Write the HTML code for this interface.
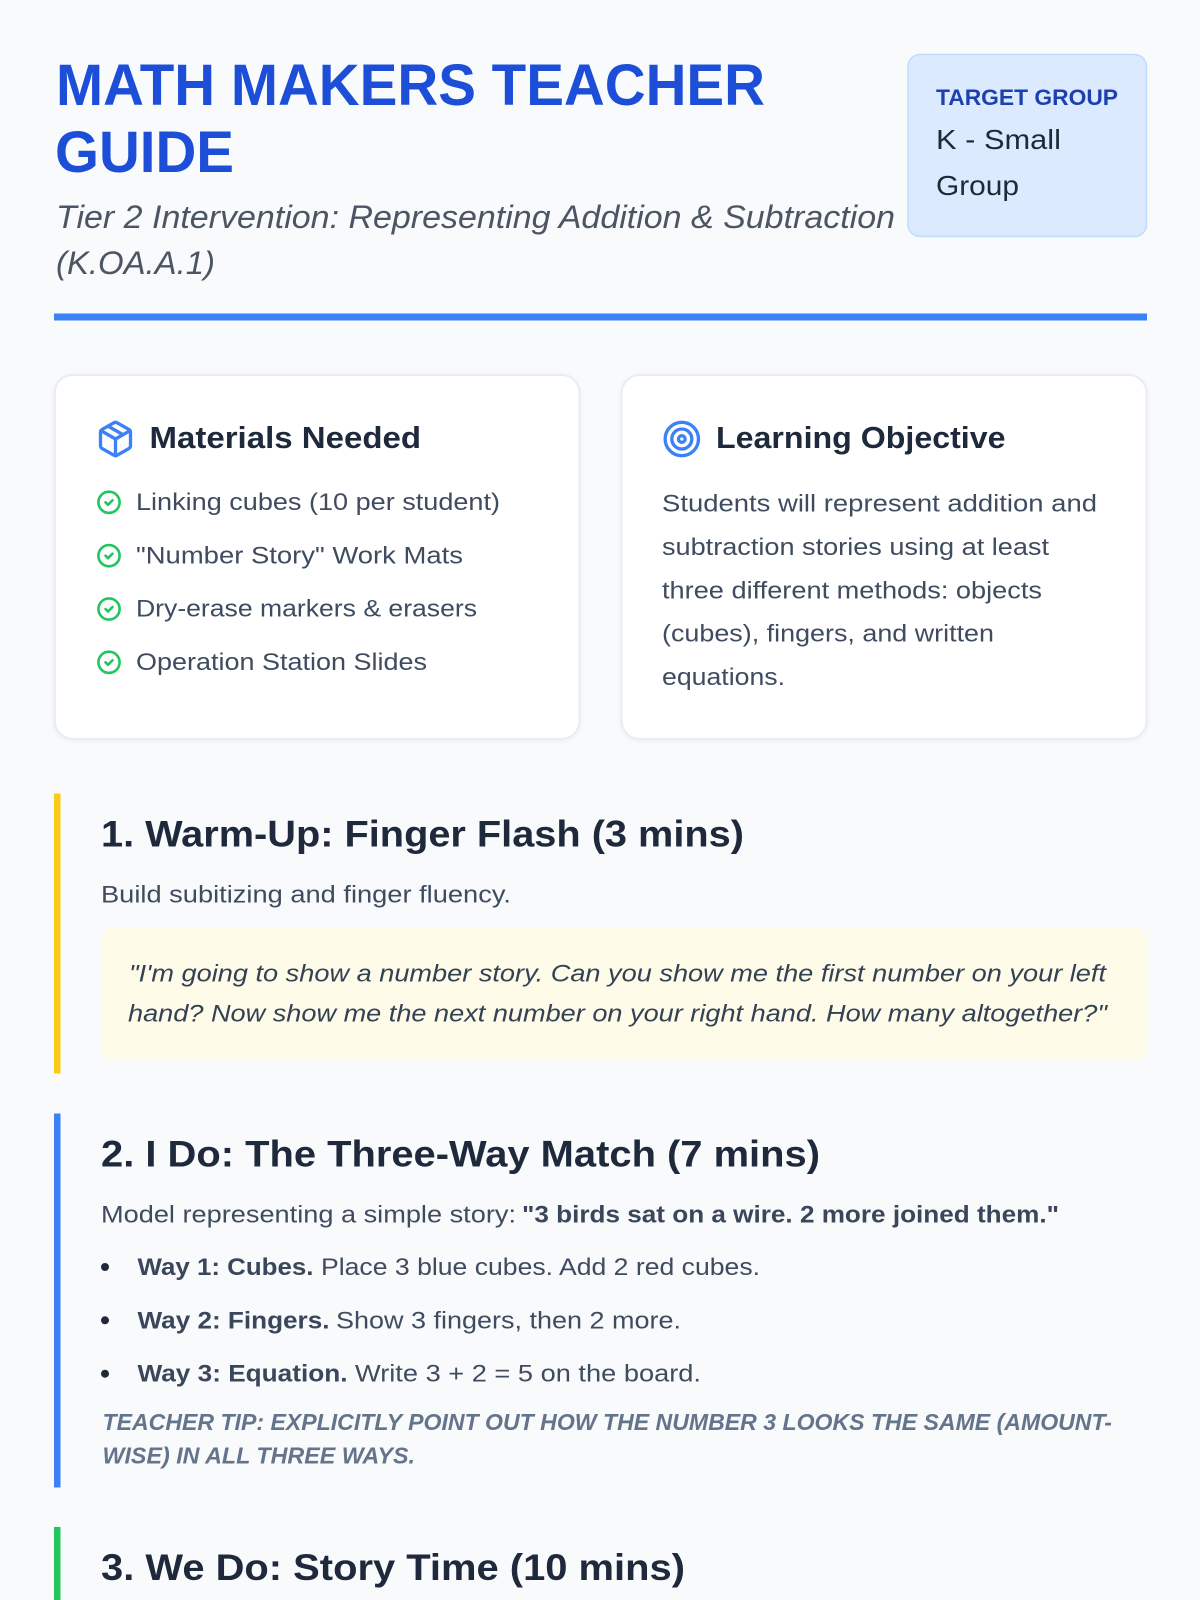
<!DOCTYPE html>
<html lang="en">
<head>
<meta charset="utf-8">
<title>Math Makers Teacher Guide</title>
<style>
html,body{margin:0;padding:0;width:1200px;height:1600px;overflow:hidden;background:#f9fafc}
svg{display:block}
text{font-family:"Liberation Sans",sans-serif;white-space:pre}
.h3{font-size:31px;font-weight:700;fill:#1e293b}
.h2{font-size:37.5px;font-weight:700;fill:#1e293b}
.b{font-size:24.5px;fill:#3f4c60}
.s{font-size:24.5px;font-weight:700;fill:#3a475b}
.q{font-size:24.5px;font-style:italic;fill:#334155}
.t{font-size:23px;font-weight:700;font-style:italic;fill:#64748b}
.ic{fill:none;stroke-linecap:round;stroke-linejoin:round;stroke-width:2}
</style>
</head>
<body>
<svg xmlns="http://www.w3.org/2000/svg" width="1200" height="1600" viewBox="0 0 1200 1600">
<rect width="1200" height="1600" fill="#f9fafc"/>

<!-- Header -->
<text x="56" y="105" font-size="58" font-weight="700" fill="#1d4ed8" textLength="709" lengthAdjust="spacingAndGlyphs">MATH MAKERS TEACHER</text>
<text x="55" y="172" font-size="58" font-weight="700" fill="#1d4ed8" textLength="179" lengthAdjust="spacingAndGlyphs">GUIDE</text>
<text x="56" y="228" font-size="32" font-style="italic" fill="#4b5563" textLength="839" lengthAdjust="spacingAndGlyphs">Tier 2 Intervention: Representing Addition &amp; Subtraction</text>
<text x="56" y="274" font-size="32" font-style="italic" fill="#4b5563" textLength="159" lengthAdjust="spacingAndGlyphs">(K.OA.A.1)</text>

<rect x="908" y="54.5" width="238.5" height="182" rx="12" fill="#dbeafe" stroke="#bfdbfe" stroke-width="1.5"/>
<text x="936" y="105" font-size="22" font-weight="700" fill="#1e40af" textLength="182" lengthAdjust="spacingAndGlyphs">TARGET GROUP</text>
<text x="936" y="149" font-size="28" fill="#1f2937" textLength="125" lengthAdjust="spacingAndGlyphs">K - Small</text>
<text x="936" y="195" font-size="28" fill="#1f2937" textLength="83" lengthAdjust="spacingAndGlyphs">Group</text>

<rect x="54" y="313.5" width="1093" height="7" fill="#3b82f6"/>

<!-- Cards -->
<rect x="54.8" y="375" width="524.7" height="364" rx="18" fill="#ffffff" stroke="#e8edf3" stroke-width="2" style="filter:drop-shadow(0 1px 2px rgba(0,0,0,.05))"/>
<rect x="621.7" y="375" width="524.8" height="364" rx="18" fill="#ffffff" stroke="#e8edf3" stroke-width="2" style="filter:drop-shadow(0 1px 2px rgba(0,0,0,.05))"/>

<!-- Package icon -->
<g transform="translate(95.5 419) scale(1.667)" class="ic" stroke="#3b82f6">
<path d="m7.5 4.27 9 5.15"/>
<path d="M21 8a2 2 0 0 0-1-1.73l-7-4a2 2 0 0 0-2 0l-7 4A2 2 0 0 0 3 8v8a2 2 0 0 0 1 1.73l7 4a2 2 0 0 0 2 0l7-4A2 2 0 0 0 21 16Z"/>
<path d="m3.3 7 8.7 5 8.7-5"/>
<path d="M12 22V12"/>
</g>
<text class="h3" x="149.5" y="448" textLength="271.5" lengthAdjust="spacingAndGlyphs">Materials Needed</text>

<!-- Check icons -->
<g fill="none" stroke="#22c55e" stroke-linecap="round" stroke-linejoin="round" stroke-width="2.6">
<g transform="translate(97 490.3)"><circle cx="12" cy="12" r="10.6"/><path d="m8.5 12 2.5 2.5 4.5-4.5"/></g>
<g transform="translate(97 543.7)"><circle cx="12" cy="12" r="10.6"/><path d="m8.5 12 2.5 2.5 4.5-4.5"/></g>
<g transform="translate(97 597)"><circle cx="12" cy="12" r="10.6"/><path d="m8.5 12 2.5 2.5 4.5-4.5"/></g>
<g transform="translate(97 650.3)"><circle cx="12" cy="12" r="10.6"/><path d="m8.5 12 2.5 2.5 4.5-4.5"/></g>
</g>
<text class="b" x="136" y="510" textLength="364" lengthAdjust="spacingAndGlyphs">Linking cubes (10 per student)</text>
<text class="b" x="136" y="563.3" textLength="327" lengthAdjust="spacingAndGlyphs">"Number Story" Work Mats</text>
<text class="b" x="136" y="616.7" textLength="341" lengthAdjust="spacingAndGlyphs">Dry-erase markers &amp; erasers</text>
<text class="b" x="136" y="670" textLength="291" lengthAdjust="spacingAndGlyphs">Operation Station Slides</text>

<!-- Target icon -->
<g transform="translate(661.8 419) scale(1.667)" class="ic" stroke="#3b82f6">
<circle cx="12" cy="12" r="10"/><circle cx="12" cy="12" r="6"/><circle cx="12" cy="12" r="2"/>
</g>
<text class="h3" x="716" y="448" textLength="289.5" lengthAdjust="spacingAndGlyphs">Learning Objective</text>
<text class="b" x="662" y="511.7" textLength="435" lengthAdjust="spacingAndGlyphs">Students will represent addition and</text>
<text class="b" x="662" y="555" textLength="387" lengthAdjust="spacingAndGlyphs">subtraction stories using at least</text>
<text class="b" x="662" y="598.3" textLength="380" lengthAdjust="spacingAndGlyphs">three different methods: objects</text>
<text class="b" x="662" y="641.7" textLength="332" lengthAdjust="spacingAndGlyphs">(cubes), fingers, and written</text>
<text class="b" x="662" y="685" textLength="123" lengthAdjust="spacingAndGlyphs">equations.</text>

<!-- Section 1 -->
<rect x="54" y="793.5" width="6.5" height="280" fill="#facc15"/>
<text class="h2" x="101" y="846.7" textLength="643" lengthAdjust="spacingAndGlyphs">1. Warm-Up: Finger Flash (3 mins)</text>
<text class="b" x="101" y="902.7" textLength="410" lengthAdjust="spacingAndGlyphs">Build subitizing and finger fluency.</text>
<rect x="101" y="927.5" width="1046" height="132.5" rx="13" fill="#fefce8"/>
<text class="q" x="129" y="981.7" textLength="977" lengthAdjust="spacingAndGlyphs">"I'm going to show a number story. Can you show me the first number on your left</text>
<text class="q" x="128" y="1021.7" textLength="979" lengthAdjust="spacingAndGlyphs">hand? Now show me the next number on your right hand. How many altogether?"</text>

<!-- Section 2 -->
<rect x="54" y="1113.5" width="6.5" height="374" fill="#3b82f6"/>
<text class="h2" x="101" y="1166.7" textLength="719" lengthAdjust="spacingAndGlyphs">2. I Do: The Three-Way Match (7 mins)</text>
<text class="b" x="101" y="1222.7" textLength="415" lengthAdjust="spacingAndGlyphs">Model representing a simple story:</text>
<text class="s" x="522" y="1222.7" textLength="537" lengthAdjust="spacingAndGlyphs">"3 birds sat on a wire. 2 more joined them."</text>

<circle cx="105" cy="1267" r="4" fill="#1f2937"/>
<circle cx="105" cy="1320.3" r="4" fill="#1f2937"/>
<circle cx="105" cy="1373.7" r="4" fill="#1f2937"/>
<text class="s" x="137.5" y="1275" textLength="176" lengthAdjust="spacingAndGlyphs">Way 1: Cubes.</text>
<text class="b" x="321" y="1275" textLength="439" lengthAdjust="spacingAndGlyphs">Place 3 blue cubes. Add 2 red cubes.</text>
<text class="s" x="137.5" y="1328.3" textLength="192" lengthAdjust="spacingAndGlyphs">Way 2: Fingers.</text>
<text class="b" x="336" y="1328.3" textLength="345" lengthAdjust="spacingAndGlyphs">Show 3 fingers, then 2 more.</text>
<text class="s" x="137.5" y="1381.7" textLength="210" lengthAdjust="spacingAndGlyphs">Way 3: Equation.</text>
<text class="b" x="355" y="1381.7" textLength="346" lengthAdjust="spacingAndGlyphs">Write 3 + 2 = 5 on the board.</text>

<text class="t" x="102.5" y="1430" textLength="1009.5" lengthAdjust="spacingAndGlyphs">TEACHER TIP: EXPLICITLY POINT OUT HOW THE NUMBER 3 LOOKS THE SAME (AMOUNT-</text>
<text class="t" x="102.5" y="1463.3" textLength="312.5" lengthAdjust="spacingAndGlyphs">WISE) IN ALL THREE WAYS.</text>

<!-- Section 3 -->
<rect x="54" y="1527" width="6.5" height="73" fill="#22c55e"/>
<text class="h2" x="101" y="1580" textLength="584" lengthAdjust="spacingAndGlyphs">3. We Do: Story Time (10 mins)</text>
</svg>
</body>
</html>
